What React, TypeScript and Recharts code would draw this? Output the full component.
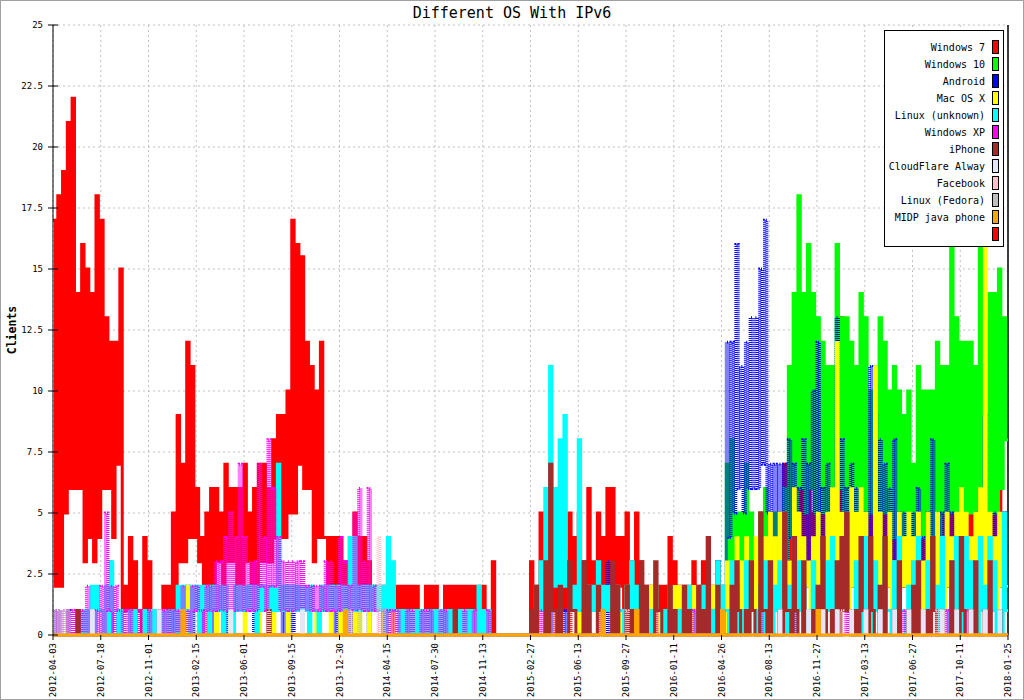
import React from 'react';
import { LineChart, Line, XAxis, YAxis, CartesianGrid, ReferenceLine } from 'recharts';

// x positions are in "tick units" (0..20, one unit per date tick); each bin is 0.1 unit
// every series is a list of (high, low) pairs, one pair per bin
const TICK_LABELS = [
  '2012-04-03', '2012-07-18', '2012-11-01', '2013-02-15', '2013-06-01', '2013-09-15', '2013-12-30',
  '2014-04-15', '2014-07-30', '2014-11-13', '2015-02-27', '2015-06-13', '2015-09-27', '2016-01-11',
  '2016-04-26', '2016-08-13', '2016-11-27', '2017-03-13', '2017-06-27', '2017-10-11', '2018-01-25',
];
const X_TICKS = [0, 1, 2, 3, 4, 5, 6, 7, 8, 9, 10, 11, 12, 13, 14, 15, 16, 17, 18, 19, 20];
const Y_TICKS = [0, 2.5, 5, 7.5, 10, 12.5, 15, 17.5, 20, 22.5, 25];

const win7 = [
  17,2, 18,2, 19,5, 21,6, 22,6, 14,6, 16,3, 15,4, 14,3, 18,4,
  17,6, 13,6, 12,4, 12,7, 15,1, 2,1, 4,1, 3,1, 1,0, 4,1,
  3,1, 1,0, 1,0, 2,1, 2,1, 5,1, 9,3, 7,3, 12,4, 11,4,
  6,3, 4,1, 5,2, 6,2, 6,3, 5,2, 7,3, 6,3, 6,2, 6,2,
  7,3, 5,2, 6,2, 7,3, 7,3, 6,3, 8,4, 9,4, 9,4, 10,5,
  17,5, 16,7, 15.5,6, 12,6, 11,3, 10,4, 12,4, 4,1, 4,1, 4,1,
  4,1, 3,1, 3,1, 5,1, 4,1, 4,1, 3,1, 2,1, 2,1, 2,1,
  2,1, 2,1, 2,0, 2,1, 2,1, 2,1, 2,1, 1,0, 2,1, 2,1,
  2,0, 1,0, 2,1, 2,1, 2,1, 2,1, 2,1, 2,1, 2,1, 2,1,
  2,1, 1,0, 3,0, 0,0, 0,0, 0,0, 0,0, 0,0, 0,0, 0,0,
  3,1, 2,1, 5,1, 5,2, 3.5,1, 3.5,1, 2,1, 3.5,1, 5,1, 4,1,
  5,1, 3,1, 6,2, 3,1, 5,2, 4,2, 6,2, 6,2, 4,2, 4,1,
  5,1, 3,1, 5,1, 3,1, 2,1, 2,1, 2,1, 2,1, 2,1, 4,1,
  3,1, 2,1, 2,1, 2,1, 3,1, 2,1, 3,1, 2,1, 2,1, 3,1,
  2,1, 2,0, 2,1, 2,1, 4,1, 3,1, 3,1, 3,1, 5,1, 3,1,
  3,1, 3,1, 4,1, 7,2, 7,2, 7,2, 11,2, 6,2, 7,2, 5,2,
  6,2, 5,2, 6,2, 11,2, 7,2, 13,3, 12,2, 6,2, 5,2, 7,2,
  6,2, 5,2, 7,2, 5,2, 6,2, 5,2, 5,2, 5,2, 5,2, 5,2,
  5,2, 6,2, 7,2, 5,2, 5,2, 5,2, 5,2, 6,2, 5,2, 6,2,
  6,2, 6,2, 6,2, 6,2, 6,2, 6,2, 6,2, 6,2, 6,2, 5,2,
];

// starts at bin 140 (2016-04-26)
const win10 = [
  1,0, 7,1, 8,3, 5,2, 5,2, 7,2, 5,2, 3,1, 5,2, 6,2,
  5,2, 5,2, 5,2, 6,2, 11,4, 14,5, 18,6, 14,5, 16,6, 14,5,
  13,5, 12,5, 11,5, 11,5, 16,6, 13,5, 13,5, 12,5, 11,5, 14,5,
  13,5, 10,5, 11,5, 13,5, 12,5, 10,4, 11,4, 10,4, 9,4, 10,4,
  7,3, 11,4, 10,4, 10,4, 10,4, 12,4, 11,5, 11,5, 16,5, 13,5,
  12,5, 12,5, 12,5, 11,4, 17,5, 13,5, 14,5, 14,5, 15,6, 13,8,
];

const android = [
  1,0, 1,0, 0,0, 1,0, 0,0, 1,0, 0,0, 0,0, 1,0, 0,0,
  0,0, 1,0, 3,0, 1,0, 0,0, 0,0, 0,0, 0,0, 0,0, 0,0,
  0,0, 0,0, 0,0, 0,0, 1,0, 0,0, 1,0, 1,0, 2,0, 1,0,
  0,0, 1,0, 2,0, 1,0, 0,0, 0,0, 1,0, 0,0, 0,0, 0,0,
  0,0, 0,0, 1,0, 0,0, 0,0, 0,0, 0,0, 0,0, 1,0, 0,0,
  1,0, 0,0, 0,0, 0,0, 0,0, 0,0, 0,0, 0,0, 0,0, 1,0,
  1,0, 0,0, 1,0, 1,0, 0,0, 0,0, 1,0, 0,0, 0,0, 0,0,
  0,0, 0,0, 0,0, 0,0, 0,0, 1,0, 0,0, 0,0, 1,0, 0,0,
  0,0, 0,0, 1,0, 0,0, 0,0, 0,0, 0,0, 1,0, 0,0, 0,0,
  1,0, 0,0, 0,0, 0,0, 0,0, 0,0, 0,0, 0,0, 0,0, 0,0,
  0,0, 1,0, 0,0, 0,0, 1,0, 0,0, 0,0, 1,0, 0,0, 0,0,
  0,0, 0,0, 1,0, 0,0, 0,0, 0,0, 3,0, 0,0, 1,0, 0,0,
  0,0, 1,0, 0,0, 0,0, 1,0, 0,0, 1,0, 1,0, 0,0, 1,0,
  0,0, 1,0, 0,0, 1,0, 1,0, 0,0, 1,0, 0,0, 1,0, 3,0,
  2,0, 12,4, 12,5, 16,6, 11,5, 12,6, 13,6, 13,6, 15,7, 17,5,
  7,4, 7,4, 7,4, 7,3, 8,4, 7,3, 6,3, 8,3, 7,3, 10,3,
  12,3, 6,3, 7,3, 6,3, 13,3, 8,3, 6,3, 7,3, 6,2, 5,2,
  5,2, 11,3, 9,3, 8,3, 7,3, 6,2, 8,2, 5,2, 5,2, 4,2,
  5,2, 6,2, 4,2, 5,2, 8,2, 5,2, 5,2, 7,2, 5,2, 4,2,
  5,2, 4,2, 4,2, 5,2, 5,2, 9,2, 4,2, 5,2, 4,2, 5,2,
];

const macOsX = [
  0,0, 0,0, 0,0, 0,0, 0,0, 1,0, 0,0, 1,0, 0,0, 0,0,
  0,0, 1,0, 0,0, 0,0, 1,0, 0,0, 0,0, 0,0, 0,0, 0,0,
  0,0, 0,0, 0,0, 1,0, 0,0, 0,0, 1,0, 0,0, 2,0, 2,1,
  1,0, 0,0, 1,0, 0,0, 1,0, 0,0, 0,0, 1,0, 0,0, 0,0,
  1,0, 0,0, 0,0, 1,0, 0,0, 0,0, 1,0, 0,0, 0,0, 1,0,
  0,0, 0,0, 1,0, 0,0, 0,0, 1,0, 0,0, 0,0, 1,0, 0,0,
  2,0, 2,0, 0,0, 1,0, 2,0, 0,0, 1,0, 0,0, 0,0, 1,0,
  0,0, 2,0, 0,0, 0,0, 1,0, 0,0, 0,0, 0,0, 1,0, 0,0,
  0,0, 0,0, 0,0, 0,0, 0,0, 0,0, 1,0, 0,0, 1,0, 0,0,
  0,0, 0,0, 0,0, 0,0, 0,0, 0,0, 0,0, 0,0, 0,0, 0,0,
  0,0, 1,0, 0,0, 1,0, 0,0, 1,0, 1,0, 0,0, 1,0, 0,0,
  1,0, 0,0, 1,0, 0,0, 1,0, 2,0, 0,0, 1,0, 0,0, 1,0,
  2,0, 2,0, 1,0, 0,0, 1,0, 2,0, 2,0, 1,0, 1,0, 2,0,
  2,0, 2,0, 1,0, 0,0, 2,0, 2,0, 1,0, 1,0, 2,0, 1,0,
  2,0, 3,1, 2,1, 4,1, 3,1, 4,1, 3,1, 4,1, 3,1, 4,1,
  5,1, 4,1, 5,1, 5,2, 3,1, 6,2, 5,2, 4,2, 3,1, 4,2,
  5,2, 3,1, 5,2, 6,2, 12,2, 5,2, 4,1, 6,2, 5,2, 6,2,
  5,2, 4,1, 11,2, 5,2, 4,2, 5,1, 3,1, 5,2, 4,2, 5,1,
  4,2, 5,1, 3,1, 5,2, 4,1, 5,2, 3,1, 5,2, 4,1, 5,2,
  6,2, 5,1, 4,2, 5,2, 6,1, 16,2, 5,2, 4,1, 5,2, 4,2,
];

const linuxUnknown = [
  0,0, 0,0, 0,0, 0,0, 0,0, 1,0, 1,0, 1,0, 2,0, 2,1,
  1,0, 2,0, 3,1, 1,0, 1,0, 0,0, 1,0, 1,0, 0,0, 1,0,
  1,0, 1,0, 0,0, 1,0, 1,0, 1,0, 2,0, 2,1, 1,0, 2,1,
  2,0, 2,1, 2,0, 2,1, 2,1, 2,0, 2,1, 1,0, 2,1, 2,1,
  2,1, 2,1, 2,0, 2,1, 2,1, 2,1, 2,1, 7,1, 2,1, 2,1,
  2,1, 2,1, 2,1, 2,0, 2,1, 1,0, 2,1, 2,1, 2,1, 2,1,
  2,1, 2,1, 4,1, 4,1, 2,1, 2,1, 2,1, 2,1, 2,1, 2,0,
  4,1, 3,1, 1,0, 1,0, 1,0, 1,0, 1,0, 1,0, 1,0, 1,0,
  1,0, 1,0, 1,0, 1,0, 1,0, 1,0, 1,0, 1,0, 1,0, 2,0,
  1,0, 1,0, 0,0, 0,0, 0,0, 0,0, 0,0, 0,0, 0,0, 0,0,
  1,0, 2,1, 3,1, 6,2, 11,2, 6,2, 8,2, 9,2, 2,1, 2,1,
  8,1, 2,1, 2,1, 2,1, 3,1, 2,1, 2,1, 2,1, 2,1, 1,0,
  2,1, 3,1, 2,1, 2,1, 1,0, 1,0, 2,1, 1,0, 1,0, 1,0,
  1,0, 1,0, 1,0, 2,1, 1,0, 1,0, 2,1, 1,0, 1,0, 3,1,
  2,1, 1,0, 3,1, 2,0, 1,0, 3,1, 2,1, 1,0, 2,0, 3,1,
  1,0, 2,1, 3,0, 1,0, 2,1, 1,0, 3,1, 2,0, 1,0, 3,1,
  2,1, 1,0, 3,1, 4,1, 1,0, 2,1, 4,1, 1,0, 3,1, 2,0,
  4,1, 1,0, 3,1, 2,1, 4,1, 1,0, 3,0, 4,1, 1,0, 2,1,
  3,1, 4,1, 1,0, 3,1, 4,1, 2,0, 4,1, 1,0, 3,1, 4,1,
  1,0, 4,1, 3,1, 1,0, 4,1, 2,1, 4,1, 3,0, 1,0, 5,1,
];

const windowsXp = [
  1,0, 1,0, 1,0, 1,0, 1,0, 1,0, 1,0, 2,0, 1,0, 1,0,
  2,0, 5,1, 2,0, 2,1, 1,0, 1,0, 1,0, 0,0, 1,0, 0,0,
  1,0, 0,0, 1,0, 1,0, 1,0, 1,0, 1,0, 2,0, 1,0, 2,1,
  2,1, 1,0, 2,1, 2,1, 3,1, 3,1, 4,1, 5,1, 4,1, 7,1,
  4,1, 3,1, 3,1, 7,2, 4,1, 8,2, 6,2, 4,1, 3,1, 3,1,
  3,1, 3,1, 3,1, 2,1, 2,1, 2,1, 2,1, 3,1, 3,1, 2,1,
  4,1, 3,1, 2,1, 5,1, 6,1, 3,1, 6,1, 2,1, 1,0, 1,0,
  1,0, 1,0, 1,0, 0,0, 1,0, 1,0, 0,0, 1,0, 1,0, 1,0,
  0,0, 1,0, 1,0, 0,0, 1,0, 0,0, 1,0, 0,0, 1,0, 0,0,
  0,0, 1,0, 0,0, 0,0, 0,0, 0,0, 0,0, 0,0, 0,0, 0,0,
  1,0, 0,0, 1,0, 0,0, 0,0, 1,0, 0,0, 0,0, 1,0, 0,0,
  0,0, 1,0, 0,0, 0,0, 1,0, 0,0, 0,0, 1,0, 0,0, 0,0,
  1,0, 0,0, 0,0, 1,0, 0,0, 0,0, 1,0, 0,0, 0,0, 1,0,
  0,0, 0,0, 1,0, 0,0, 1,0, 0,0, 0,0, 1,0, 0,0, 0,0,
  0,0, 0,0, 1,0, 0,0, 0,0, 0,0, 0,0, 0,0, 1,0, 0,0,
  0,0, 0,0, 0,0, 0,0, 0,0, 1,0, 0,0, 0,0, 0,0, 0,0,
  1,0, 0,0, 0,0, 0,0, 0,0, 0,0, 1,0, 0,0, 0,0, 0,0,
  0,0, 0,0, 0,0, 1,0, 0,0, 0,0, 0,0, 0,0, 1,0, 0,0,
  0,0, 0,0, 1,0, 0,0, 0,0, 0,0, 0,0, 1,0, 0,0, 0,0,
  0,0, 1,0, 0,0, 0,0, 0,0, 0,0, 1,0, 0,0, 0,0, 0,0,
];

const iPhone = [
  0,0, 0,0, 0,0, 0,0, 0,0, 1,0, 0,0, 0,0, 0,0, 0,0,
  0,0, 0,0, 0,0, 0,0, 0,0, 0,0, 0,0, 0,0, 0,0, 0,0,
  0,0, 0,0, 0,0, 0,0, 0,0, 0,0, 0,0, 0,0, 0,0, 0,0,
  0,0, 0,0, 0,0, 0,0, 0,0, 0,0, 0,0, 0,0, 0,0, 0,0,
  0,0, 0,0, 0,0, 0,0, 0,0, 1,0, 0,0, 0,0, 0,0, 0,0,
  0,0, 0,0, 0,0, 0,0, 0,0, 0,0, 0,0, 0,0, 0,0, 0,0,
  0,0, 0,0, 0,0, 0,0, 0,0, 0,0, 0,0, 0,0, 0,0, 0,0,
  0,0, 0,0, 0,0, 0,0, 0,0, 0,0, 0,0, 0,0, 0,0, 0,0,
  0,0, 0,0, 0,0, 0,0, 1,0, 0,0, 0,0, 0,0, 0,0, 0,0,
  0,0, 0,0, 0,0, 0,0, 0,0, 0,0, 0,0, 0,0, 0,0, 0,0,
  1,0, 2,0, 0,0, 3,0, 7,1, 1,0, 2,0, 0,0, 3,1, 1,0,
  0,0, 3,0, 2,0, 0,0, 2,1, 1,0, 0,0, 3,0, 2,0, 0,0,
  2,0, 1,0, 0,0, 3,0, 2,0, 0,0, 3,1, 1,0, 0,0, 2,0,
  1,0, 0,0, 2,0, 1,0, 0,0, 2,0, 1,0, 4,0, 0,0, 2,0,
  1,0, 0,0, 2,0, 3,1, 0,0, 1,0, 3,1, 0,0, 5,1, 1,0,
  3,0, 0,0, 1,0, 5,1, 1,0, 4,1, 0,0, 3,0, 0,0, 1,0,
  2,0, 4,1, 0,0, 1,0, 3,0, 4,1, 5,1, 0,0, 1,0, 4,1,
  1,0, 4,1, 0,0, 2,0, 4,0, 0,0, 1,0, 3,0, 0,0, 1,0,
  2,0, 3,0, 0,0, 1,0, 4,1, 0,0, 1,0, 0,0, 3,0, 1,0,
  4,1, 0,0, 1,0, 3,0, 0,0, 1,0, 3,0, 0,0, 1,0, 0,0,
];

const cloudFlare = [
  0,0, 0,0, 0,0, 0,0, 0,0, 0,0, 0,0, 0,0, 1,0, 0,0,
  0,0, 0,0, 0,0, 0,0, 0,0, 0,0, 0,0, 0,0, 0,0, 0,0,
  0,0, 0,0, 1,0, 0,0, 0,0, 0,0, 0,0, 0,0, 0,0, 0,0,
  0,0, 0,0, 0,0, 0,0, 0,0, 0,0, 0,0, 1,0, 0,0, 0,0,
  0,0, 0,0, 0,0, 0,0, 0,0, 0,0, 0,0, 0,0, 0,0, 0,0,
  0,0, 0,0, 1,0, 0,0, 0,0, 0,0, 0,0, 0,0, 0,0, 0,0,
  0,0, 0,0, 0,0, 0,0, 0,0, 0,0, 0,0, 0,0, 0,0, 0,0,
  0,0, 0,0, 0,0, 0,0, 0,0, 0,0, 0,0, 0,0, 0,0, 0,0,
  0,0, 0,0, 0,0, 0,0, 0,0, 0,0, 0,0, 0,0, 0,0, 0,0,
  0,0, 0,0, 0,0, 0,0, 0,0, 0,0, 0,0, 0,0, 0,0, 0,0,
  0,0, 0,0, 0,0, 0,0, 0,0, 0,0, 0,0, 0,0, 0,0, 0,0,
  0,0, 0,0, 0,0, 0,0, 0,0, 0,0, 0,0, 0,0, 0,0, 0,0,
  0,0, 0,0, 0,0, 0,0, 0,0, 0,0, 0,0, 0,0, 0,0, 0,0,
  0,0, 0,0, 0,0, 0,0, 0,0, 0,0, 0,0, 0,0, 0,0, 0,0,
  0,0, 0,0, 0,0, 0,0, 0,0, 0,0, 0,0, 0,0, 0,0, 0,0,
  0,0, 0,0, 1,0, 0,0, 0,0, 0,0, 0,0, 0,0, 1,0, 0,0,
  0,0, 1,0, 0,0, 0,0, 1,0, 0,0, 0,0, 1,0, 0,0, 0,0,
  1,0, 0,0, 0,0, 1,0, 0,0, 0,0, 1,0, 0,0, 0,0, 1,0,
  0,0, 0,0, 1,0, 0,0, 0,0, 0,0, 1,0, 0,0, 0,0, 1,0,
  0,0, 0,0, 1,0, 0,0, 0,0, 1,0, 0,0, 0,0, 1,0, 0,0,
];

const facebook = [
  0,0, 0,0, 0,0, 0,0, 0,0, 0,0, 0,0, 0,0, 0,0, 0,0,
  0,0, 0,0, 0,0, 0,0, 0,0, 0,0, 0,0, 0,0, 0,0, 0,0,
  0,0, 0,0, 0,0, 0,0, 0,0, 0,0, 0,0, 0,0, 0,0, 0,0,
  0,0, 0,0, 0,0, 0,0, 0,0, 0,0, 0,0, 0,0, 0,0, 0,0,
  0,0, 0,0, 0,0, 0,0, 0,0, 1,0, 0,0, 0,0, 0,0, 0,0,
  0,0, 0,0, 0,0, 0,0, 0,0, 0,0, 0,0, 0,0, 0,0, 0,0,
  0,0, 0,0, 1,0, 0,0, 0,0, 0,0, 0,0, 0,0, 4,0, 0,0,
  0,0, 0,0, 0,0, 0,0, 0,0, 0,0, 0,0, 0,0, 0,0, 0,0,
  0,0, 0,0, 0,0, 0,0, 0,0, 0,0, 0,0, 0,0, 0,0, 0,0,
  0,0, 0,0, 0,0, 0,0, 0,0, 0,0, 0,0, 0,0, 0,0, 0,0,
  0,0, 0,0, 0,0, 0,0, 0,0, 0,0, 0,0, 0,0, 0,0, 0,0,
  0,0, 0,0, 0,0, 0,0, 0,0, 0,0, 0,0, 0,0, 0,0, 0,0,
  1,0, 0,0, 0,0, 0,0, 0,0, 0,0, 0,0, 0,0, 0,0, 0,0,
  0,0, 0,0, 0,0, 0,0, 0,0, 0,0, 0,0, 0,0, 0,0, 0,0,
  0,0, 0,0, 0,0, 0,0, 0,0, 0,0, 0,0, 0,0, 0,0, 0,0,
  0,0, 0,0, 0,0, 0,0, 0,0, 0,0, 0,0, 0,0, 0,0, 0,0,
  0,0, 0,0, 0,0, 0,0, 0,0, 1,0, 0,0, 0,0, 0,0, 0,0,
  0,0, 0,0, 0,0, 0,0, 0,0, 0,0, 0,0, 0,0, 0,0, 0,0,
  0,0, 0,0, 0,0, 0,0, 0,0, 1,0, 0,0, 0,0, 0,0, 0,0,
  0,0, 0,0, 0,0, 0,0, 0,0, 0,0, 0,0, 0,0, 0,0, 0,0,
];

const linuxFedora = [
  1,0, 1,0, 1,0, 1,0, 0,0, 0,0, 0,0, 0,0, 0,0, 0,0,
  0,0, 0,0, 0,0, 0,0, 0,0, 0,0, 0,0, 0,0, 0,0, 0,0,
  0,0, 0,0, 0,0, 0,0, 0,0, 0,0, 0,0, 1,0, 0,0, 0,0,
  0,0, 0,0, 0,0, 0,0, 0,0, 0,0, 0,0, 0,0, 0,0, 0,0,
  0,0, 0,0, 0,0, 0,0, 0,0, 0,0, 0,0, 0,0, 0,0, 0,0,
  0,0, 0,0, 0,0, 0,0, 0,0, 0,0, 0,0, 0,0, 0,0, 0,0,
  0,0, 0,0, 0,0, 0,0, 1,0, 0,0, 0,0, 0,0, 0,0, 1,0,
  0,0, 0,0, 0,0, 0,0, 0,0, 0,0, 0,0, 0,0, 0,0, 0,0,
  0,0, 0,0, 0,0, 0,0, 0,0, 0,0, 0,0, 0,0, 0,0, 0,0,
  0,0, 0,0, 0,0, 0,0, 0,0, 0,0, 0,0, 0,0, 0,0, 0,0,
  0,0, 0,0, 0,0, 0,0, 0,0, 0,0, 0,0, 0,0, 0,0, 0,0,
  0,0, 0,0, 0,0, 0,0, 0,0, 0,0, 0,0, 0,0, 0,0, 0,0,
  0,0, 0,0, 0,0, 0,0, 0,0, 0,0, 0,0, 0,0, 0,0, 0,0,
  0,0, 0,0, 0,0, 0,0, 0,0, 0,0, 0,0, 0,0, 0,0, 0,0,
  0,0, 0,0, 0,0, 0,0, 0,0, 0,0, 0,0, 0,0, 0,0, 0,0,
  0,0, 0,0, 0,0, 0,0, 0,0, 0,0, 0,0, 0,0, 0,0, 0,0,
  0,0, 0,0, 0,0, 0,0, 0,0, 0,0, 0,0, 0,0, 0,0, 0,0,
  0,0, 0,0, 0,0, 0,0, 0,0, 0,0, 0,0, 0,0, 0,0, 0,0,
  0,0, 0,0, 0,0, 0,0, 0,0, 0,0, 0,0, 0,0, 0,0, 0,0,
  0,0, 0,0, 0,0, 0,0, 0,0, 0,0, 0,0, 0,0, 0,0, 0,0,
];

const midpJava = [
  0,0, 0,0, 0,0, 0,0, 0,0, 0,0, 0,0, 0,0, 0,0, 0,0,
  0,0, 0,0, 0,0, 0,0, 0,0, 0,0, 0,0, 0,0, 0,0, 0,0,
  0,0, 0,0, 0,0, 0,0, 0,0, 0,0, 0,0, 1,0, 0,0, 0,0,
  0,0, 0,0, 0,0, 0,0, 0,0, 0,0, 0,0, 0,0, 0,0, 0,0,
  0,0, 0,0, 0,0, 0,0, 0,0, 0,0, 0,0, 0,0, 0,0, 0,0,
  0,0, 0,0, 0,0, 0,0, 0,0, 0,0, 0,0, 0,0, 0,0, 0,0,
  0,0, 1,0, 0,0, 0,0, 0,0, 0,0, 0,0, 0,0, 0,0, 0,0,
  0,0, 0,0, 0,0, 0,0, 0,0, 0,0, 0,0, 0,0, 0,0, 0,0,
  0,0, 0,0, 0,0, 0,0, 0,0, 0,0, 0,0, 0,0, 0,0, 0,0,
  0,0, 0,0, 0,0, 0,0, 0,0, 0,0, 0,0, 0,0, 0,0, 0,0,
  0,0, 0,0, 0,0, 0,0, 0,0, 0,0, 0,0, 0,0, 0,0, 0,0,
  0,0, 0,0, 0,0, 0,0, 0,0, 1,0, 0,0, 0,0, 0,0, 0,0,
  0,0, 0,0, 1,0, 0,0, 0,0, 0,0, 0,0, 0,0, 0,0, 0,0,
  0,0, 0,0, 0,0, 0,0, 0,0, 0,0, 0,0, 0,0, 0,0, 0,0,
  1,0, 0,0, 0,0, 0,0, 0,0, 0,0, 0,0, 0,0, 0,0, 0,0,
  0,0, 0,0, 0,0, 0,0, 0,0, 0,0, 0,0, 0,0, 0,0, 0,0,
  1,0, 0,0, 0,0, 0,0, 0,0, 0,0, 0,0, 0,0, 0,0, 0,0,
  0,0, 0,0, 0,0, 0,0, 0,0, 0,0, 0,0, 0,0, 0,0, 0,0,
  0,0, 0,0, 0,0, 0,0, 0,0, 0,0, 0,0, 0,0, 0,0, 0,0,
  0,0, 0,0, 0,0, 0,0, 0,0, 0,0, 0,0, 0,0, 0,0, 0,0,
];

const SERIES = [
  { key: 'win7', name: 'Windows 7', color: '#ff0000', values: win7, startBin: 0, width: 3, dash: undefined },
  { key: 'win10', name: 'Windows 10', color: '#00ff00', values: win10, startBin: 140, width: 3, dash: undefined },
  { key: 'android', name: 'Android', color: '#0000ff', values: android, startBin: 0, width: 3, dash: '1 1' },
  { key: 'mac', name: 'Mac OS X', color: '#ffff00', values: macOsX, startBin: 0, width: 2.5, dash: undefined },
  { key: 'linux', name: 'Linux (unknown)', color: '#00ffff', values: linuxUnknown, startBin: 0, width: 3, dash: undefined },
  { key: 'xp', name: 'Windows XP', color: '#ff00ff', values: windowsXp, startBin: 0, width: 3, dash: '1 1' },
  { key: 'iphone', name: 'iPhone', color: '#a52a2a', values: iPhone, startBin: 0, width: 3, dash: undefined },
  { key: 'cloudflare', name: 'CloudFlare Alway', color: '#e6e6fa', values: cloudFlare, startBin: 0, width: 2.5, dash: undefined },
  { key: 'facebook', name: 'Facebook', color: '#ffc0cb', values: facebook, startBin: 0, width: 2.5, dash: '1 1' },
  { key: 'fedora', name: 'Linux (Fedora)', color: '#bebebe', values: linuxFedora, startBin: 0, width: 2.5, dash: '1 1' },
  { key: 'midp', name: 'MIDP java phone', color: '#ffa500', values: midpJava, startBin: 0, width: 3, dash: undefined },
];
const LEGEND_EXTRA = [{ name: '', color: '#ff0000' }];

const BINS = 200;
const HALF = 0.05;

const rows: any[] = [];
for (let k = 0; k <= BINS * 2; k++) {
  const row: any = { x: Math.round(k * HALF * 100) / 100 };
  for (const s of SERIES) {
    const kk = Math.min(k, BINS * 2 - 1);
    const i = kk - s.startBin * 2;
    row[s.key] = i >= 0 && i < s.values.length ? s.values[i] : null;
  }
  rows.push(row);
}

const MONO = '"DejaVu Sans Mono", "Liberation Mono", monospace';

const XTick = (props: any) => {
  const { x, y, payload } = props;
  return (
    <text
      transform={`translate(${x + 3},${y}) rotate(-90)`}
      textAnchor="end"
      fontSize={9}
      fontFamily={MONO}
      fill="#000"
    >
      {TICK_LABELS[payload.value]}
    </text>
  );
};

const YTick = (props: any) => {
  const { x, y, payload } = props;
  return (
    <g>
      <line x1={x + 5} x2={x + 15} y1={y} y2={y} stroke="#000" />
      <text x={x} y={y + 3} textAnchor="end" fontSize={9} fontFamily={MONO} fill="#000">
        {String(payload.value)}
      </text>
    </g>
  );
};

const legendItems = [...SERIES.map((s) => ({ name: s.name, color: s.color })), ...LEGEND_EXTRA];

export default function App() {
  return (
    <div style={{ position: 'absolute', left: 0, top: 0, width: 1024, height: 700, background: '#fff' }}>
      <LineChart width={1024} height={700} data={rows} margin={{ top: 25, right: 16, left: 0, bottom: 0 }}>
        <CartesianGrid stroke="#c0c0c0" strokeDasharray="2 3" />
        <XAxis
          type="number"
          dataKey="x"
          domain={[0, 20]}
          ticks={X_TICKS}
          interval={0}
          height={65}
          tickSize={5}
          tickMargin={3}
          tick={<XTick />}
          axisLine={false}
          tickLine={{ stroke: '#000' }}
        />
        <YAxis
          type="number"
          domain={[0, 25]}
          ticks={Y_TICKS}
          interval={0}
          width={53}
          tickSize={0}
          tickMargin={10}
          tick={<YTick />}
          axisLine={{ stroke: '#000' }}
          tickLine={false}
        />
        <ReferenceLine x={20} stroke="#000" strokeWidth={1.5} />
        {SERIES.map((s) => (
          <Line
            key={s.key}
            dataKey={s.key}
            name={s.name}
            type="stepAfter"
            stroke={s.color}
            strokeWidth={s.width}
            strokeDasharray={s.dash}
            dot={false}
            activeDot={false}
            isAnimationActive={false}
            connectNulls={false}
          />
        ))}
      </LineChart>
      <svg
        width={1024}
        height={700}
        style={{ position: 'absolute', left: 0, top: 0, pointerEvents: 'none' }}
      >
        <rect x={0.5} y={0.5} width={1023} height={699} fill="none" stroke="#a0a0a0" />
        <text x={512} y={18} textAnchor="middle" fontSize={15} fontFamily={MONO} fill="#000">
          Different OS With IPv6
        </text>
        <text
          transform="translate(16,330) rotate(-90)"
          textAnchor="middle"
          fontSize={11.5}
          fontWeight="bold"
          fontFamily={MONO}
          fill="#000"
        >
          Clients
        </text>
      </svg>
      <div
        style={{
          position: 'absolute',
          left: 884,
          top: 30,
          width: 120,
          height: 217,
          boxSizing: 'border-box',
          border: '1px solid #000',
          background: '#fff',
        }}
      >
        {legendItems.map((it, i) => (
          <div key={i} style={{ position: 'absolute', left: 0, top: 9 + i * 17, width: 118, height: 16 }}>
            <span
              style={{
                position: 'absolute',
                right: 18,
                top: 1,
                fontFamily: MONO,
                fontSize: 10,
                lineHeight: '14px',
                whiteSpace: 'nowrap',
                color: '#000',
              }}
            >
              {it.name}
            </span>
            <div
              style={{
                position: 'absolute',
                left: 107,
                top: 0,
                width: 7,
                height: 14,
                boxSizing: 'border-box',
                border: '1px solid #000',
                background: it.color,
              }}
            />
          </div>
        ))}
      </div>
    </div>
  );
}
